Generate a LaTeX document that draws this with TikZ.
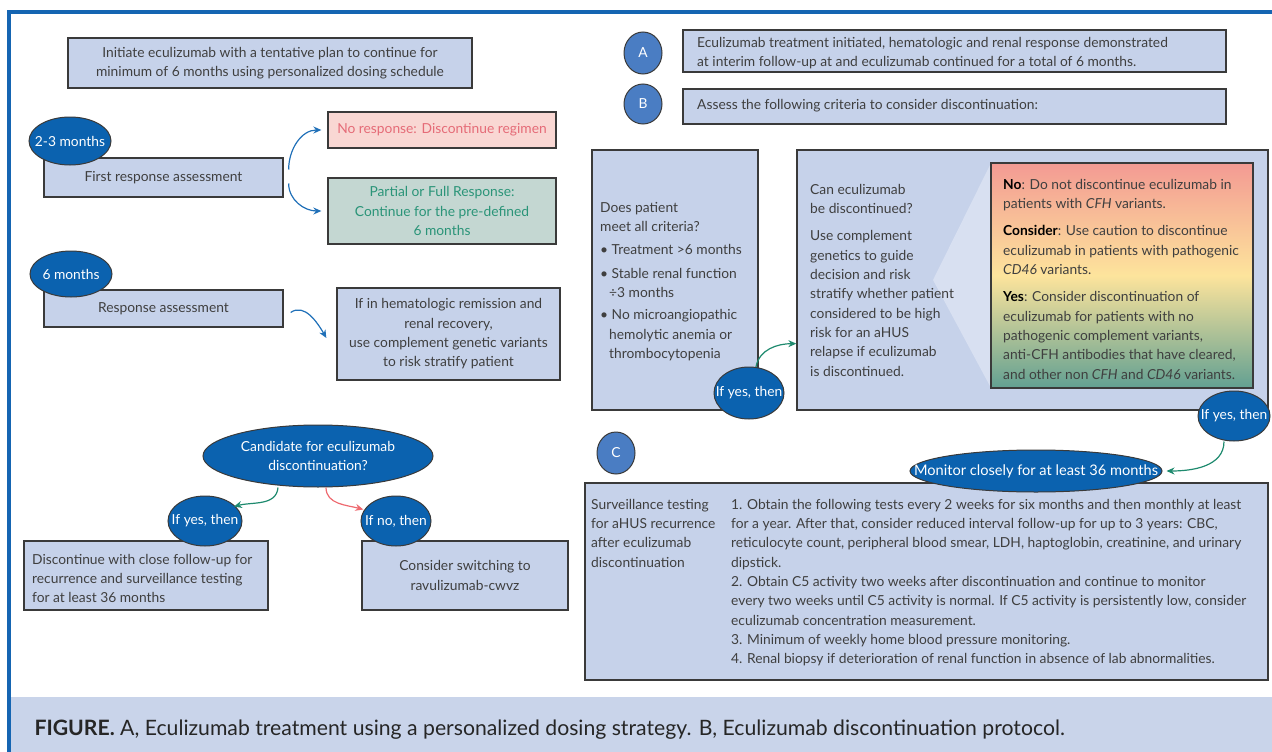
\documentclass[tikz,border=0pt]{standalone}
\usepackage{fontspec}
\setmainfont{Lato}
\usepackage{tikz}
\usetikzlibrary{arrows.meta}
\usetikzlibrary{shapes.geometric}
\definecolor{framebl}{HTML}{1565B2}
\definecolor{boxfill}{HTML}{C6D2EA}
\definecolor{edge}{HTML}{3A3A3A}
\definecolor{ink}{HTML}{3F3F3F}
\definecolor{ovalfill}{HTML}{0B62AF}
\definecolor{letterfill}{HTML}{4A7DC3}
\definecolor{nofill}{HTML}{F9D7D3}
\definecolor{notext}{HTML}{E56B77}
\definecolor{gofill}{HTML}{C4D7D2}
\definecolor{gotext}{HTML}{2A9478}
\definecolor{arrowblue}{HTML}{2070B8}
\definecolor{arrowgreen}{HTML}{1E8A6E}
\definecolor{arrowred}{HTML}{EE6A70}
\definecolor{wedge}{HTML}{D8E0F1}
\definecolor{gradtop}{HTML}{F39A93}
\definecolor{gradmid}{HTML}{FDE49C}
\definecolor{gradbot}{HTML}{62A092}
\definecolor{capfill}{HTML}{C9D4EA}

\begin{document}
\begin{tikzpicture}[x=1pt,y=1pt,
    every node/.style={font=\fontsize{13.8}{19.3}\selectfont, text=ink},
    box/.style={draw=edge, fill=boxfill, line width=1.3pt, inner sep=0pt, align=center},
    oval/.style={ellipse, draw=edge, fill=ovalfill, line width=1pt, inner sep=0pt, align=center, text=white},
    letter/.style={ellipse, draw=edge, fill=letterfill, line width=1pt, inner sep=0pt, text=white, minimum width=38pt, minimum height=42pt},
    note/.style={anchor=north west, align=left, inner sep=0pt},
    link/.style={line width=1.2pt, -{Stealth[length=8pt,width=7pt]}}]
    % cadre et legende
    \useasboundingbox (0,0) rectangle (1272,-752);
    \fill[capfill] (10,-697) rectangle (1272,-752);
    \draw[framebl, line width=3.5pt] (9,-752) -- (9,-12) -- (1272,-12);
    \node[anchor=west, font=\fontsize{21.2}{25}\selectfont, text=black!85] (cap) at (31,-730)
        {\textbf{FIGURE.} A, Eculizumab treatment using a personalized dosing strategy. B, Eculizumab discontinuation protocol.};

    % partie gauche
    \node[box, minimum width=404pt, minimum height=50pt] (init) at (270,-63)
        {Initiate eculizumab with a tentative plan to continue for\\minimum of 6 months using personalized dosing schedule};
    \node[box, minimum width=239pt, minimum height=39pt] (first) at (163.5,-177.5) {First response assessment};
    \node[oval, minimum width=82pt, minimum height=48pt] (m23) at (70,-141) {\makebox[0pt]{2-3 months}};
    \node[box, fill=nofill, text=notext, minimum width=228pt, minimum height=36pt] (stop) at (442,-130)
        {No response: Discontinue regimen};
    \node[box, fill=gofill, text=gotext, minimum width=228pt, minimum height=66pt] (cont) at (442,-211)
        {Partial or Full Response:\\Continue for the pre-defined\\6 months};
    \draw[link, arrowblue] ([shift={(5,8)}]first.east) to[out=90,in=180] ([xshift=-6pt]stop.west);
    \draw[link, arrowblue] ([shift={(5,-6)}]first.east) to[out=-90,in=180] ([xshift=-6pt]cont.west);

    \node[box, minimum width=239pt, minimum height=37pt] (resp) at (163.5,-308.5) {Response assessment};
    \node[oval, minimum width=82pt, minimum height=46pt] (m6) at (71,-274) {\makebox[0pt]{6 months}};
    \node[box, minimum width=223pt, minimum height=92pt] (hem) at (448.5,-334)
        {If in hematologic remission and\\renal recovery,\\use complement genetic variants\\to risk stratify patient};
    \draw[link, arrowblue] ([shift={(7,-4)}]resp.east) to[out=35,in=120] ([shift={(-10,-4)}]hem.west);

    \node[oval, minimum width=230pt, minimum height=62pt] (cand) at (318,-456)
        {Candidate for eculizumab\\discontinuation?};
    \node[box, minimum width=244pt, minimum height=69pt] (disc) at (146,-575.5) {};
    \node[note] (disct) at (32,-554)
        {Discontinue with close follow-up for\\recurrence and surveillance testing\\for at least 36 months};
    \node[box, minimum width=206pt, minimum height=69pt] (switch) at (465,-575.5)
        {Consider switching to\\ravulizumab-cwvz};
    \node[oval, minimum width=74pt, minimum height=50pt] (yes1) at (205,-521) {\makebox[0pt]{If yes, then}};
    \node[oval, minimum width=70pt, minimum height=50pt] (no1) at (396,-521) {\makebox[0pt]{If no, then}};
    \draw[link, arrowgreen] ([xshift=-40pt]cand.south) to[out=-95,in=15] ([shift={(-2,0)}]yes1.25);
    \draw[link, arrowred] ([xshift=8pt]cand.south) to[out=-90,in=165] ([shift={(-1,0)}]no1.160);

    % partie droite
    \node[letter] (la) at (643,-53) {A};
    \node[box, minimum width=543pt, minimum height=42pt] (boxa) at (954.5,-51) {};
    \node[note] (texta) at (697,-37)
        {Eculizumab treatment initiated, hematologic and renal response demonstrated\\at interim follow-up at and eculizumab continued for a total of 6 months.};
    \node[letter, minimum height=40pt] (lb) at (643,-104) {B};
    \node[box, minimum width=543pt, minimum height=35pt] (boxb) at (954.5,-106.5) {};
    \node[note] (textb) at (697,-99) {Assess the following criteria to consider discontinuation:};

    \node[box, minimum width=166pt, minimum height=260pt] (crit) at (675,-280) {};
    \node[note] (critt) at (600,-202)
        {Does patient\\meet all criteria?\\[4pt]
         \textbullet\ Treatment >6 months\\[4pt]
         \textbullet\ Stable renal function\\\hspace*{9pt}÷3 months\\[3pt]
         \textbullet\ No microangiopathic\\\hspace*{9pt}hemolytic anemia or\\\hspace*{9pt}thrombocytopenia};
    \node[box, minimum width=471pt, minimum height=260pt] (can) at (1032.5,-280) {};
    % reflet clair vers l'encadre
    \fill[wedge] (991,-163) -- (933,-280) -- (991,-388) -- cycle;
    \node[note] (cant) at (810,-184)
        {Can eculizumab\\be discontinued?\\[8pt]
         Use complement\\genetics to guide\\decision and risk\\stratify whether patient\\considered to be high\\risk for an aHUS\\relapse if eculizumab\\is discontinued.};
    \node[draw=edge, line width=1.3pt, top color=gradtop, bottom color=gradbot, middle color=gradmid,
          minimum width=262pt, minimum height=225pt, inner sep=0pt] (call) at (1122,-275.5) {};
    \node[note] (callt) at (1003,-179)
        {\textcolor{black}{\textbf{No}}: Do not discontinue eculizumab in\\patients with \textit{CFH} variants.\\[8pt]
         \textcolor{black}{\textbf{Consider}}: Use caution to discontinue\\eculizumab in patients with pathogenic\\\textit{CD46} variants.\\[8pt]
         \textcolor{black}{\textbf{Yes}}: Consider discontinuation of\\eculizumab for patients with no\\pathogenic complement variants,\\anti-CFH antibodies that have cleared,\\and other non \textit{CFH} and \textit{CD46} variants.};
    \node[oval, minimum width=70pt, minimum height=52pt] (yes2) at (749,-393) {\makebox[0pt]{If yes, then}};
    \draw[link, arrowgreen] (yes2.75) to[out=80,in=180] ([yshift=67pt]can.south west);
    \node[oval, minimum width=72pt, minimum height=50pt] (yes3) at (1234,-416) {\makebox[0pt]{If yes, then}};

    \node[letter] (lc) at (616,-453) {C};
    \node[box, minimum width=683pt, minimum height=197pt] (surv) at (926.5,-581.5) {};
    \node[note] (survl) at (591,-499)
        {Surveillance testing\\for aHUS recurrence\\after eculizumab\\discontinuation};
    \node[note] (survr) at (731,-499)
        {1. Obtain the following tests every 2 weeks for six months and then monthly at least\\
         for a year. After that, consider reduced interval follow-up for up to 3 years: CBC,\\
         reticulocyte count, peripheral blood smear, LDH, haptoglobin, creatinine, and urinary\\
         dipstick.\\
         2. Obtain C5 activity two weeks after discontinuation and continue to monitor\\
         every two weeks until C5 activity is normal. If C5 activity is persistently low, consider\\
         eculizumab concentration measurement.\\
         3. Minimum of weekly home blood pressure monitoring.\\
         4. Renal biopsy if deterioration of renal function in absence of lab abnormalities.};
    \node[oval, minimum width=252pt, minimum height=42pt, font=\fontsize{14.6}{19}\selectfont] (mon) at (1036,-471)
        {\makebox[0pt]{Monitor closely for at least 36 months}};
    \draw[link, arrowgreen] ([xshift=-10pt]yes3.south) to[out=-90,in=0] ([xshift=4pt]mon.east);
\end{tikzpicture}
\end{document}
